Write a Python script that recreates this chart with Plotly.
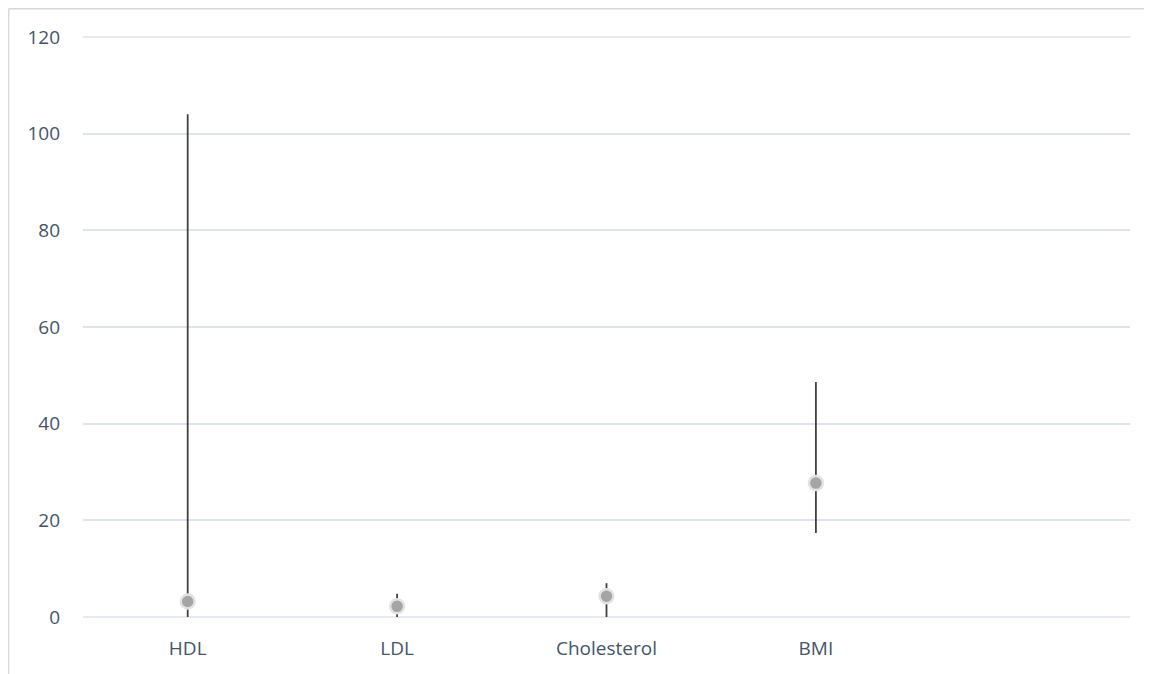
import plotly.graph_objects as go

categories = ["HDL", "LDL", "Cholesterol", "BMI"]
mean_values = [3.2, 2.2, 4.3, 27.7]
upper_values = [104.0, 4.8, 7.0, 48.6]
lower_values = [0.0, 0.0, 0.0, 17.4]
y_ticks = [0, 20, 40, 60, 80, 100, 120]

err_plus = [u - m for u, m in zip(upper_values, mean_values)]
err_minus = [m - l for m, l in zip(mean_values, lower_values)]

fig = go.Figure()
fig.add_trace(go.Scatter(
    x=categories,
    y=mean_values,
    mode="markers",
    marker=dict(size=14, color="#a5a5a5", line=dict(color="#e3e3e3", width=2.5)),
    error_y=dict(type="data", symmetric=False, array=err_plus, arrayminus=err_minus,
                 color="#404040", thickness=1.8, width=0),
    showlegend=False,
    cliponaxis=False,
))

font_color = "#44546a"
grid_color = "#dfe4eb"
W, H = 1144, 666
L, R, T, B = 75, 22, 29, 57
pw, ph = W - L - R, H - T - B

# edge gridlines (bottom and top of the value axis) that plotly drops at the axis ends
edge_lines = [
    dict(type="line", xref="paper", yref="paper", x0=0, x1=1, y0=p, y1=p, layer="below",
         line=dict(color=grid_color, width=1.6))
    for p in (0, 1)
]

fig.update_layout(
    width=W, height=H,
    margin=dict(l=L, r=R, t=T, b=B),
    paper_bgcolor="white", plot_bgcolor="white",
    font=dict(family="Open Sans", size=19, color=font_color),
    xaxis=dict(type="category", range=[-0.5, 4.5], showgrid=False, showline=False,
               zeroline=False, ticks="", ticklabelstandoff=18,
               tickfont=dict(size=19, color=font_color)),
    yaxis=dict(range=[0, 120], tickvals=y_ticks, showgrid=True, gridcolor=grid_color,
               gridwidth=1.6, zeroline=False, showline=False, ticks="",
               ticklabelstandoff=22, tickfont=dict(size=19, color=font_color)),
    shapes=edge_lines + [
        dict(type="line", xref="paper", yref="paper", x0=-(L - 0.7) / pw, x1=1.2,
             y0=1 + (T - 0.7) / ph, y1=1 + (T - 0.7) / ph, line=dict(color="#d9d9d9", width=1.4)),
        dict(type="line", xref="paper", yref="paper", x0=-(L - 0.7) / pw, x1=-(L - 0.7) / pw,
             y0=1 + (T - 0.7) / ph, y1=-0.2, line=dict(color="#d9d9d9", width=1.4)),
    ],
)

fig.write_html("out.html")
